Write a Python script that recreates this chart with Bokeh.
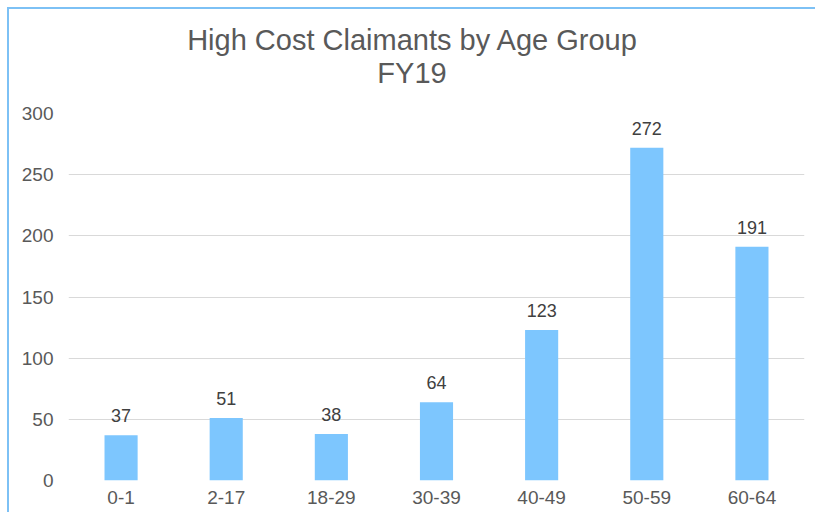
from bokeh.plotting import figure
from bokeh.models import ColumnDataSource, Range1d, LabelSet, FactorRange, Div
from bokeh.layouts import column
from bokeh.core.properties import value
from bokeh.embed import file_html
from bokeh.resources import INLINE

categories = ["0-1", "2-17", "18-29", "30-39", "40-49", "50-59", "60-64"]
values = [37, 51, 38, 64, 123, 272, 191]
y_ticks = [0, 50, 100, 150, 200, 250, 300]
title_line1 = "High Cost Claimants by Age Group"
title_line2 = "FY19"

src = ColumnDataSource(dict(cat=categories, val=values, lab=[str(v) for v in values]))

FONT = "Liberation Sans"
W = 806
DIV_H = 90
H = 503 - DIV_H

title_div = Div(
    text=(f'<div style="display:block; width:796px; text-align:center; '
          f'font-family:\'{FONT}\'; font-size:29px; line-height:33px; color:#595959; '
          f'padding-top:15px; padding-left:10px;">'
          f'{title_line1}<br>{title_line2}</div>'),
    width=W, height=DIV_H, margin=0)

p = figure(x_range=FactorRange(*categories, range_padding=0), y_range=Range1d(0, 300),
           width=W, height=H, output_backend="svg", toolbar_location=None,
           min_border_left=59, min_border_right=11, min_border_top=104 - DIV_H,
           min_border_bottom=32)

p.vbar(x="cat", top="val", width=0.315, source=src, fill_color="#7DC6FE", line_color=None)

labels = LabelSet(x="cat", y="val", text="lab", source=src, text_align="center",
                  text_baseline="bottom", y_offset=13, text_font=value(FONT),
                  text_font_size=value("18px"), text_color="#404040")
p.add_layout(labels)

p.outline_line_color = None
p.xgrid.grid_line_color = None
p.ygrid.grid_line_color = "#D9D9D9"
p.ygrid.grid_line_width = 1
p.yaxis.ticker = y_ticks

for ax in (p.xaxis[0], p.yaxis[0]):
    ax.axis_line_color = None
    ax.major_tick_line_color = None
    ax.minor_tick_line_color = None
    ax.major_label_text_font = FONT
    ax.major_label_text_font_size = "19px"
    ax.major_label_text_color = "#595959"
p.yaxis.major_label_standoff = 9
p.xaxis.major_label_standoff = 4

layout = column(title_div, p, spacing=0)
layout.styles = {"border-left": "2px solid #7DC1F5", "border-top": "2px solid #7DC1F5",
                 "margin-left": "7px", "margin-top": "7px"}

open("out.html", "w").write(file_html(layout, INLINE))
